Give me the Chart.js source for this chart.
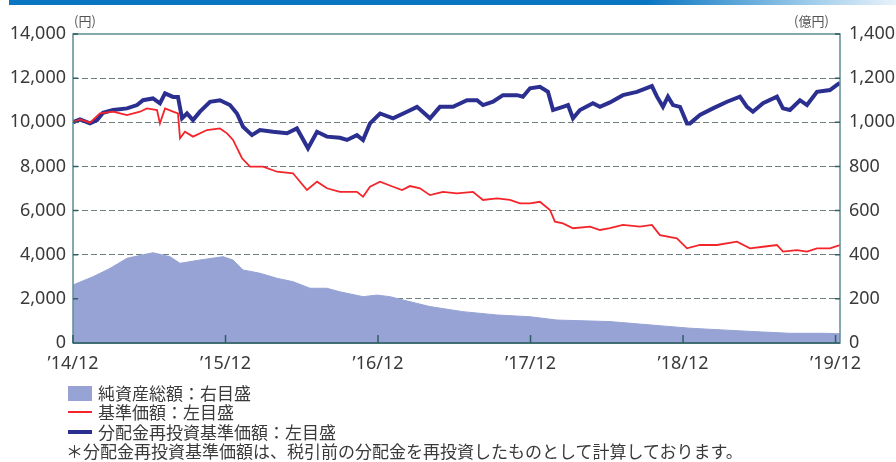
<!DOCTYPE html>
<html lang="ja">
<head>
<meta charset="utf-8">
<script src="https://cdn.jsdelivr.net/npm/chart.js@4/dist/chart.umd.min.js"></script>
<style>
  html, body { margin: 0; padding: 0; background: #fff; }
  #wrap { position: relative; width: 896px; height: 462px; overflow: hidden; font-family: "Noto Sans CJK JP", "Noto Sans", sans-serif; color: #3a3a3a; }
  #topbar { position: absolute; left: 9px; top: 0; width: 887px; height: 5px; background: linear-gradient(to right, #0a76c2 0%, #0a76c2 72%, #9ccbea 90%, #e8f2fa 100%); }
  canvas { position: absolute; left: 0; top: 0; }
  .unit { position: absolute; top: 11px; font-size: 13px; color: #555; }
  .leg { position: absolute; left: 68px; font-size: 17px; line-height: 20px; white-space: nowrap; }
  .swatch { position: absolute; left: 68px; width: 24px; }
  .leg span { position: absolute; left: 30px; top: 0; }
</style>
</head>
<body>
<div id="wrap">
  <div id="topbar"></div>
  <canvas id="chart" width="896" height="462"></canvas>
  <div class="unit" style="left:74px">(円)</div>
  <div class="unit" style="left:794px">(億円)</div>
  <div class="swatch" style="top:386px;height:15px;background:#96a3d4"></div>
  <div class="leg" style="top:383px"><span>純資産総額：右目盛</span></div>
  <div class="swatch" style="top:411px;height:2px;background:#f4252a"></div>
  <div class="leg" style="top:402px"><span>基準価額：左目盛</span></div>
  <div class="swatch" style="top:430px;height:4px;background:#2b2f8f"></div>
  <div class="leg" style="top:422px"><span>分配金再投資基準価額：左目盛</span></div>
  <div class="leg" style="top:441px;left:66px">＊分配金再投資基準価額は、税引前の分配金を再投資したものとして計算しております。</div>
</div>
<script>
// x values are months since 2014/12
const tickLabels = ['’14/12', '’15/12', '’16/12', '’17/12', '’18/12', '’19/12'];

// 分配金再投資基準価額 (円)
const reinvMonths = [0, 0.55, 1.34, 1.89, 2.36, 3.15, 4.25, 5.04, 5.51, 6.29, 6.84, 7.24, 7.87, 8.26, 8.58, 8.97, 9.44, 9.99, 10.78, 11.56,
  12.35, 12.9, 13.38, 14.08, 14.71, 15.74, 16.84, 17.62, 18.49, 19.2, 19.98, 21.0, 21.56, 22.34, 22.82, 23.37, 24.16, 25.18, 26.28, 27.07,
  28.09, 28.87, 29.9, 31.0, 31.79, 32.26, 33.05, 33.83, 34.93, 35.4, 35.96, 36.74, 37.37, 37.77, 38.55, 38.95, 39.34, 39.89, 40.91, 41.46,
  42.25, 43.27, 44.37, 45.55, 45.95, 46.42, 46.81, 47.21, 47.76, 48.31, 48.55, 49.33, 50.35, 51.46, 52.48, 53.03, 53.5, 54.29, 55.39, 55.86,
  56.41, 57.2, 57.75, 58.54, 59.56, 60.11, 60.35];
const reinvValues = [10000, 10130, 9950, 10100, 10430, 10555, 10630, 10780, 11000, 11080, 10860, 11310, 11150, 11150, 10180, 10400, 10100, 10480, 10930, 11000,
  10780, 10400, 9800, 9420, 9650, 9570, 9500, 9720, 8820, 9570, 9350, 9300, 9200, 9420, 9200, 9950, 10400, 10180, 10480, 10700,
  10180, 10700, 10700, 11000, 11000, 10780, 10930, 11230, 11230, 11160, 11540, 11610, 11380, 10555, 10700, 10780, 10180, 10555, 10860, 10700,
  10900, 11230, 11380, 11640, 11160, 10700, 11160, 10780, 10700, 9950, 9950, 10330, 10630, 10930, 11160, 10700, 10480, 10860, 11160, 10630,
  10555, 11000, 10780, 11380, 11460, 11690, 11790];

// 基準価額 (円)
const navMonths = [0, 0.55, 1.34, 2.12, 3.15, 4.25, 5.27, 5.82, 6.61, 6.84, 7.24, 7.87, 8.26, 8.42, 8.81, 9.44, 10.54, 11.56, 12.12, 12.59,
  13.3, 13.93, 14.95, 16.06, 17.31, 18.41, 19.2, 19.98, 21.0, 22.34, 22.82, 23.37, 24.16, 25.18, 25.89, 26.51, 27.3, 28.09, 29.11, 30.21,
  31.47, 32.26, 33.36, 34.38, 35.17, 35.96, 36.74, 37.53, 37.92, 38.55, 39.34, 40.68, 41.46, 42.25, 43.27, 44.61, 45.55, 46.18, 47.52, 48.31,
  49.33, 50.67, 52.24, 53.27, 54.29, 55.39, 55.86, 56.96, 57.75, 58.54, 59.56, 60.35];
const navValues = [10000, 10130, 9980, 10400, 10480, 10330, 10480, 10630, 10555, 9950, 10630, 10480, 10400, 9270, 9570, 9350, 9650, 9720, 9500, 9200,
  8370, 7990, 7990, 7760, 7690, 6930, 7310, 7010, 6850, 6850, 6630, 7080, 7310, 7080, 6930, 7110, 7010, 6700, 6850, 6780,
  6850, 6480, 6550, 6480, 6330, 6330, 6400, 6025, 5500, 5420, 5200, 5270, 5120, 5200, 5350, 5270, 5350, 4890, 4740, 4290,
  4440, 4440, 4590, 4290, 4360, 4440, 4140, 4210, 4140, 4290, 4290, 4440];

// 純資産総額 (億円)
const assetMonths = [0, 1.57, 2.91, 4.25, 6.29, 7.63, 8.42, 9.99, 11.8, 12.59, 13.38, 14.71, 16.06, 17.31, 18.65, 19.98, 21.0, 22.82, 23.92, 24.94,
  25.96, 28.09, 30.68, 33.36, 35.96, 38.08, 42.25, 45.4, 48.55, 51.14, 53.82, 56.41, 59.01, 60.35];
const assetValues = [263, 300, 338, 384, 409, 391, 361, 376, 391, 376, 331, 316, 293, 278, 248, 248, 232, 210, 217, 210,
  195, 165, 142, 127, 119, 104, 97, 82, 67, 59, 51, 44, 44, 42];

const toPoints = (xs, ys) => xs.map((x, i) => ({ x, y: ys[i] }));

const AXIS_COLOR = '#5e8f92';
const TICK_COLOR = '#2f5f63';
const FONT = { family: '"Noto Sans", sans-serif', size: 18 };

const frame = {
  id: 'frame',
  afterDatasetsDraw(chart) {
    const { ctx, chartArea: a, scales } = chart;
    ctx.save();
    ctx.strokeStyle = AXIS_COLOR;
    ctx.lineWidth = 1.5;
    ctx.strokeRect(a.left, a.top, a.right - a.left, a.bottom - a.top);
    ctx.strokeStyle = TICK_COLOR;
    ctx.lineWidth = 1.5;
    ctx.beginPath();
    ctx.moveTo(a.left, a.bottom);
    ctx.lineTo(a.right, a.bottom);
    // inner ticks
    scales.y.ticks.forEach(t => {
      const y = scales.y.getPixelForValue(t.value);
      ctx.moveTo(a.left, y); ctx.lineTo(a.left + 5, y);
    });
    scales.y1.ticks.forEach(t => {
      const y = scales.y1.getPixelForValue(t.value);
      ctx.moveTo(a.right, y); ctx.lineTo(a.right - 5, y);
    });
    scales.x.ticks.forEach(t => {
      const x = scales.x.getPixelForValue(t.value);
      ctx.moveTo(x, a.bottom); ctx.lineTo(x, a.bottom - 8);
    });
    ctx.stroke();
    ctx.restore();
  },
};

new Chart(document.getElementById('chart'), {
  type: 'line',
  data: {
    datasets: [
      {
        label: '基準価額',
        data: toPoints(navMonths, navValues),
        borderColor: '#f4252a',
        borderWidth: 1.8,
        pointRadius: 0,
        yAxisID: 'y',
      },
      {
        label: '分配金再投資基準価額',
        data: toPoints(reinvMonths, reinvValues),
        borderColor: '#2b2f8f',
        borderWidth: 4,
        pointRadius: 0,
        yAxisID: 'y',
      },
      {
        label: '純資産総額',
        data: toPoints(assetMonths, assetValues),
        borderColor: '#96a3d4',
        borderWidth: 1,
        backgroundColor: '#96a3d4',
        fill: 'origin',
        pointRadius: 0,
        yAxisID: 'y1',
      },
    ],
  },
  options: {
    responsive: false,
    animation: false,
    events: [],
    layout: { padding: { top: 34, left: 0, right: 0, bottom: 0 } },
    plugins: { legend: { display: false }, tooltip: { enabled: false } },
    scales: {
      x: {
        type: 'linear',
        min: 0,
        max: 60.35,
        afterBuildTicks: s => { s.ticks = tickLabels.map((_, i) => ({ value: i * 12 })); },
        afterFit: s => { s.height = 119; },
        ticks: {
          color: '#3a3a3a',
          font: FONT,
          padding: 10,
          maxRotation: 0,
          callback: v => tickLabels[Math.round(v / 12)],
        },
        grid: { display: false, drawTicks: false },
        border: { display: false },
      },
      y: {
        position: 'left',
        min: 0,
        max: 14000,
        afterBuildTicks: s => { s.ticks = [0, 2000, 4000, 6000, 8000, 10000, 12000, 14000].map(v => ({ value: v })); },
        afterFit: s => { s.width = 73; },
        ticks: { color: '#3a3a3a', font: FONT, padding: 7, callback: v => v.toLocaleString('en-US') },
        grid: {
          drawTicks: false,
          color: ctx => (ctx.tick.value === 0 || ctx.tick.value === 14000 ? 'rgba(0,0,0,0)' : '#6f7f80'),
          lineWidth: 1,
        },
        border: { display: false, dash: [6, 3] },
      },
      y1: {
        position: 'right',
        min: 0,
        max: 1400,
        afterBuildTicks: s => { s.ticks = [0, 200, 400, 600, 800, 1000, 1200, 1400].map(v => ({ value: v })); },
        afterFit: s => { s.width = 56; },
        ticks: { color: '#3a3a3a', font: FONT, padding: 9, callback: v => v.toLocaleString('en-US') },
        grid: { display: false, drawTicks: false },
        border: { display: false },
      },
    },
  },
  plugins: [frame],
});
</script>
</body>
</html>
